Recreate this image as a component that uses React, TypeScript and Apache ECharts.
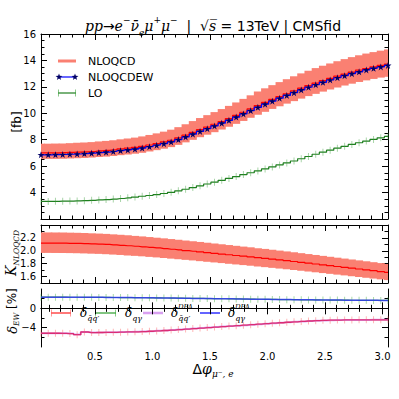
import React, { useEffect, useRef } from "react";
import * as echarts from "echarts";

// ---- binning (bin centres of Δφ, π/50 wide bins) ----
const binWidth = Math.PI / 50;
const firstCenter = Math.PI / 100;
const nBins = 49;
const binCenters: number[] = Array.from({ length: nBins }, (_, k) => firstCenter + k * binWidth);
const xMin = binCenters[0];
const xMax = binCenters[nBins - 1];

// ---- top panel: cross sections [fb] ----
const nloqcd = [7.0, 7.0, 7.01, 7.02, 7.04, 7.06, 7.08, 7.11, 7.15, 7.19, 7.24, 7.3, 7.36, 7.42, 7.5, 7.6, 7.71, 7.83, 7.96, 8.14, 8.34, 8.55, 8.76, 8.96, 9.17, 9.38, 9.6, 9.84, 10.08, 10.33, 10.58, 10.82, 11.05, 11.27, 11.48, 11.69, 11.9, 12.1, 12.29, 12.47, 12.64, 12.81, 12.97, 13.12, 13.26, 13.39, 13.51, 13.62, 13.72];
const nloqcdUp = [7.7, 7.7, 7.71, 7.72, 7.74, 7.77, 7.79, 7.82, 7.87, 7.91, 7.96, 8.03, 8.1, 8.16, 8.25, 8.36, 8.48, 8.61, 8.76, 8.95, 9.17, 9.41, 9.64, 9.86, 10.09, 10.32, 10.56, 10.82, 11.09, 11.36, 11.64, 11.89, 12.13, 12.36, 12.58, 12.8, 13.02, 13.22, 13.42, 13.6, 13.77, 13.94, 14.1, 14.25, 14.39, 14.52, 14.63, 14.74, 14.83];
const nloqcdDown = [6.55, 6.55, 6.55, 6.56, 6.58, 6.6, 6.62, 6.65, 6.69, 6.72, 6.77, 6.83, 6.88, 6.94, 7.01, 7.11, 7.21, 7.32, 7.44, 7.61, 7.8, 7.99, 8.19, 8.38, 8.57, 8.77, 8.98, 9.2, 9.42, 9.66, 9.89, 10.11, 10.33, 10.53, 10.73, 10.92, 11.11, 11.3, 11.47, 11.64, 11.8, 11.95, 12.1, 12.24, 12.37, 12.49, 12.6, 12.7, 12.76];
const nloqcdew = [6.86, 6.86, 6.87, 6.88, 6.9, 6.92, 6.95, 6.98, 7.02, 7.06, 7.11, 7.17, 7.23, 7.29, 7.37, 7.47, 7.58, 7.7, 7.83, 8.01, 8.21, 8.42, 8.63, 8.83, 9.04, 9.25, 9.47, 9.71, 9.95, 10.2, 10.45, 10.69, 10.92, 11.14, 11.35, 11.56, 11.77, 11.97, 12.16, 12.34, 12.52, 12.69, 12.85, 13.0, 13.14, 13.28, 13.4, 13.51, 13.62];
const lo = [3.33, 3.33, 3.34, 3.35, 3.36, 3.37, 3.39, 3.41, 3.44, 3.47, 3.51, 3.55, 3.6, 3.66, 3.72, 3.78, 3.85, 3.93, 4.02, 4.13, 4.25, 4.38, 4.51, 4.65, 4.79, 4.93, 5.07, 5.21, 5.36, 5.5, 5.64, 5.79, 5.94, 6.09, 6.24, 6.39, 6.56, 6.73, 6.9, 7.06, 7.21, 7.36, 7.5, 7.64, 7.77, 7.9, 8.02, 8.14, 8.25];

// ---- middle panel: K factor ----
const kFactor = [2.12, 2.12, 2.119, 2.118, 2.116, 2.114, 2.111, 2.107, 2.103, 2.098, 2.092, 2.085, 2.078, 2.07, 2.062, 2.053, 2.044, 2.034, 2.024, 2.014, 2.003, 1.993, 1.982, 1.971, 1.96, 1.949, 1.938, 1.927, 1.916, 1.905, 1.893, 1.882, 1.87, 1.858, 1.846, 1.834, 1.821, 1.808, 1.795, 1.782, 1.769, 1.756, 1.743, 1.73, 1.717, 1.704, 1.691, 1.678, 1.665];
const kUp = [2.285, 2.285, 2.284, 2.283, 2.281, 2.279, 2.276, 2.271, 2.267, 2.262, 2.255, 2.248, 2.24, 2.231, 2.223, 2.213, 2.203, 2.193, 2.182, 2.171, 2.159, 2.148, 2.137, 2.125, 2.113, 2.101, 2.089, 2.077, 2.065, 2.054, 2.041, 2.029, 2.016, 2.003, 1.99, 1.977, 1.963, 1.949, 1.935, 1.921, 1.907, 1.893, 1.879, 1.865, 1.851, 1.837, 1.823, 1.809, 1.795];
const kDown = [1.967, 1.967, 1.966, 1.966, 1.964, 1.962, 1.959, 1.955, 1.952, 1.947, 1.941, 1.935, 1.928, 1.921, 1.914, 1.905, 1.897, 1.888, 1.878, 1.869, 1.859, 1.85, 1.839, 1.829, 1.819, 1.809, 1.798, 1.788, 1.778, 1.768, 1.757, 1.746, 1.735, 1.724, 1.713, 1.702, 1.69, 1.678, 1.666, 1.654, 1.642, 1.63, 1.618, 1.605, 1.593, 1.581, 1.569, 1.557, 1.545];

// ---- bottom panel: EW corrections [%] ----
const dQQ = [-5.15, -5.15, -5.16, -5.17, -5.22, -5.45, -4.9, -5.02, -5.0, -4.98, -4.96, -4.93, -4.89, -4.85, -4.8, -4.74, -4.67, -4.59, -4.5, -4.4, -4.3, -4.19, -4.08, -3.98, -3.88, -3.78, -3.68, -3.58, -3.48, -3.38, -3.28, -3.18, -3.08, -2.98, -2.88, -2.79, -2.7, -2.62, -2.55, -2.49, -2.45, -2.42, -2.4, -2.39, -2.38, -2.38, -2.37, -2.37, -2.37];
const dQQdpa = [-5.13, -5.14, -5.15, -5.16, -5.21, -5.42, -4.92, -5.01, -4.99, -4.97, -4.95, -4.92, -4.88, -4.84, -4.79, -4.73, -4.66, -4.58, -4.49, -4.39, -4.29, -4.19, -4.08, -3.98, -3.88, -3.78, -3.68, -3.58, -3.48, -3.38, -3.28, -3.18, -3.08, -2.98, -2.89, -2.8, -2.71, -2.63, -2.56, -2.5, -2.46, -2.43, -2.41, -2.4, -2.39, -2.39, -2.38, -2.38, -2.38];
const dQG = [2.3, 2.3, 2.3, 2.3, 2.29, 2.29, 2.28, 2.27, 2.26, 2.25, 2.24, 2.23, 2.22, 2.2, 2.19, 2.17, 2.16, 2.14, 2.12, 2.1, 2.08, 2.06, 2.04, 2.02, 2.0, 1.98, 1.96, 1.94, 1.92, 1.9, 1.88, 1.86, 1.84, 1.82, 1.8, 1.79, 1.77, 1.75, 1.74, 1.72, 1.71, 1.7, 1.68, 1.67, 1.66, 1.65, 1.64, 1.64, 1.63];
const dQGdpa = [2.31, 2.31, 2.31, 2.3, 2.3, 2.29, 2.29, 2.28, 2.27, 2.26, 2.25, 2.24, 2.22, 2.21, 2.19, 2.18, 2.16, 2.14, 2.12, 2.1, 2.08, 2.06, 2.04, 2.02, 2.0, 1.98, 1.96, 1.94, 1.92, 1.9, 1.88, 1.86, 1.84, 1.82, 1.81, 1.79, 1.77, 1.76, 1.74, 1.73, 1.71, 1.7, 1.69, 1.68, 1.67, 1.66, 1.65, 1.64, 1.64];

// ---- ticks ----
const xMajorTicks = [0.5, 1.0, 1.5, 2.0, 2.5, 3.0];
const xMinorTicks = [0.1, 0.2, 0.3, 0.4, 0.6, 0.7, 0.8, 0.9, 1.1, 1.2, 1.3, 1.4, 1.6, 1.7, 1.8, 1.9, 2.1, 2.2, 2.3, 2.4, 2.6, 2.7, 2.8, 2.9];
const topYMajor = [4, 6, 8, 10, 12, 14];
const topYLabels = [4, 6, 8, 10, 12, 14, 16];
const topYMinor = [2.5, 3, 3.5, 4.5, 5, 5.5, 6.5, 7, 7.5, 8.5, 9, 9.5, 10.5, 11, 11.5, 12.5, 13, 13.5, 14.5, 15, 15.5];
const midYMajor = [1.6, 1.8, 2.0, 2.2];
const midYMinor = [1.5, 1.7, 1.9, 2.1, 2.3];
const botYMajor = [-4, 0];
const botYMinor = [-6, -2, 2];

const BAND = "#fa8072";
const pairs = (ys: number[]) => binCenters.map((x, i) => [x, ys[i]]);
const STAR = "path://M50,0L61.2,34.5L97.6,34.5L68.2,55.9L79.4,90.5L50,69.1L20.6,90.5L31.8,55.9L2.4,34.5L38.8,34.5Z";

const grids = [
  { left: 41, top: 34, width: 347, height: 185 },
  { left: 41, top: 225, width: 347, height: 58 },
  { left: 41, top: 289, width: 347, height: 58 },
];
const yRanges = [
  [2, 16],
  [1.5, 2.4],
  [-8, 4],
];
const yTickSets = [
  [topYMajor, topYMinor, topYLabels],
  [midYMajor, midYMinor, midYMajor],
  [botYMajor, botYMinor, botYMajor],
];
const yFormat = [
  (v: number) => String(Math.round(v)),
  (v: number) => v.toFixed(1),
  (v: number) => (v < 0 ? "\u2212" + Math.abs(v) : String(v)),
];

const labelStyle = { fontFamily: "DejaVu Sans", fontSize: 10, color: "#000" };

function xAxisDef(g: number, pos: string, ticks: number[], len: number, line: boolean, labels: boolean) {
  return {
    type: "value",
    gridIndex: g,
    position: pos,
    min: xMin,
    max: xMax,
    axisLine: { show: line, lineStyle: { color: "#000", width: 1 } },
    axisTick: { show: true, inside: true, length: len, customValues: ticks, lineStyle: { color: "#000", width: 1 } },
    axisLabel: labels
      ? { show: true, customValues: xMajorTicks, formatter: (v: number) => v.toFixed(1), margin: 4, ...labelStyle }
      : { show: false },
    splitLine: { show: false },
  };
}
function yAxisDef(g: number, pos: string, ticks: number[], len: number, line: boolean, labels: boolean) {
  return {
    type: "value",
    gridIndex: g,
    position: pos,
    min: yRanges[g][0],
    max: yRanges[g][1],
    axisLine: { show: line, lineStyle: { color: "#000", width: 1 } },
    axisTick: { show: true, inside: true, length: len, customValues: ticks, lineStyle: { color: "#000", width: 1 } },
    axisLabel: labels
      ? { show: true, customValues: yTickSets[g][2], formatter: yFormat[g], margin: 5, ...labelStyle }
      : { show: false },
    splitLine: { show: false },
  };
}

const xAxes: any[] = [];
const yAxes: any[] = [];
for (let g = 0; g < 3; g++) {
  xAxes.push(xAxisDef(g, "bottom", xMajorTicks, 6, true, g === 2));
  yAxes.push(yAxisDef(g, "left", yTickSets[g][0], 6, true, true));
}
for (let g = 0; g < 3; g++) {
  xAxes.push(xAxisDef(g, "bottom", xMinorTicks, 3.5, false, false));
  xAxes.push(xAxisDef(g, "top", xMajorTicks, 6, true, false));
  xAxes.push(xAxisDef(g, "top", xMinorTicks, 3.5, false, false));
  yAxes.push(yAxisDef(g, "left", yTickSets[g][1], 3.5, false, false));
  yAxes.push(yAxisDef(g, "right", yTickSets[g][0], 6, true, false));
  yAxes.push(yAxisDef(g, "right", yTickSets[g][1], 3.5, false, false));
}

function bandSeries(g: number, low: number[], high: number[]) {
  return {
    type: "custom",
    xAxisIndex: g,
    yAxisIndex: g,
    clip: true,
    z: 1,
    silent: true,
    encode: { x: 0, y: [1, 2] },
    data: binCenters.map((x, i) => [x, low[i], high[i]]),
    renderItem: (params: any, api: any) => {
      const x = api.value(0);
      const a = api.coord([x - binWidth / 2, api.value(2)]);
      const b = api.coord([x + binWidth / 2, api.value(1)]);
      const cs = params.coordSys;
      const x0 = Math.max(a[0] - 0.4, cs.x);
      const x1 = Math.min(b[0] + 0.4, cs.x + cs.width);
      return { type: "rect", shape: { x: x0, y: a[1], width: x1 - x0, height: b[1] - a[1] }, style: { fill: BAND } };
    },
  };
}
function stepLine(g: number, ys: number[], color: string, width: number, z: number, extra: any = {}) {
  return {
    type: "line",
    xAxisIndex: g,
    yAxisIndex: g,
    step: "middle",
    data: pairs(ys),
    symbol: "none",
    lineStyle: { color, width },
    itemStyle: { color },
    z,
    silent: true,
    ...extra,
  };
}
function errBars(g: number, ys: number[], color: string, z: number) {
  return {
    type: "scatter",
    xAxisIndex: g,
    yAxisIndex: g,
    data: pairs(ys),
    symbol: "rect",
    symbolSize: [1, 7],
    itemStyle: { color },
    z,
    silent: true,
  };
}

function starPts(cx: number, cy: number, r: number) {
  const pts: number[][] = [];
  for (let i = 0; i < 10; i++) {
    const rr = i % 2 === 0 ? r : r * 0.4;
    const ang = -Math.PI / 2 + (i * Math.PI) / 5;
    pts.push([cx + rr * Math.cos(ang), cy + rr * Math.sin(ang)]);
  }
  return pts;
}

const serif = "DejaVu Serif";
const mathRich = {
  m: { fontFamily: serif, fontStyle: "italic", fontSize: 14, lineHeight: 22, fill: "#000" },
  n: { fontFamily: "DejaVu Sans", fontSize: 14, lineHeight: 22, fill: "#000" },
  sp: { fontFamily: serif, fontStyle: "italic", fontSize: 9, lineHeight: 12, verticalAlign: "top", fill: "#000" },
  sb: { fontFamily: serif, fontStyle: "italic", fontSize: 9, lineHeight: 10, verticalAlign: "bottom", fill: "#000" },
};
const legRich = {
  d: { fontFamily: serif, fontStyle: "italic", fontSize: 12, lineHeight: 18, fill: "#000" },
  s: { fontFamily: serif, fontStyle: "italic", fontSize: 8, lineHeight: 8, verticalAlign: "bottom", fill: "#000" },
};

function legendLine(x1: number, x2: number, y: number, color: string, width: number, opacity = 1) {
  return { type: "line", shape: { x1, y1: y, x2, y2: y }, style: { stroke: color, lineWidth: width, opacity }, silent: true };
}
function legendBar(x: number, y: number, color: string) {
  return { type: "rect", shape: { x: x - 0.5, y: y - 3.5, width: 1, height: 7 }, style: { fill: color }, silent: true };
}
function txt(x: number, y: number, text: string, rich: any, align = "left", rotation = 0, font?: string) {
  return {
    type: "text",
    x,
    y,
    rotation,
    silent: true,
    style: { text, rich, x: 0, y: 0, align, verticalAlign: "middle", font, fill: "#000" },
  };
}

const graphics: any[] = [
  // title
  txt(213, 26, "{m|pp}{n|\u2192}{m|e}{sp|\u2212}{m|\u03BD\u0304}{sb|e}{m|\u03BC}{sp|+}{m|\u03BC}{sp|\u2212}{n|  |  \u221A}{m|s\u0305}{n| = 13TeV | CMSfid}", mathRich, "center"),
  // axis titles
  txt(17, 122, "[fb]", undefined, "center", Math.PI / 2, "12px DejaVu Sans"),
  txt(11, 253, "{k|K}{s|NLOQCD}", {
    k: { fontFamily: serif, fontStyle: "italic", fontSize: 14, lineHeight: 18, fill: "#000" },
    s: { fontFamily: serif, fontStyle: "italic", fontSize: 7.5, lineHeight: 8, verticalAlign: "bottom", fill: "#000" },
  }, "center", Math.PI / 2),
  txt(12, 311, "{d|\u03B4}{s|EW}{n| [%]}", {
    d: { fontFamily: serif, fontStyle: "italic", fontSize: 13, lineHeight: 16, fill: "#000" },
    s: { fontFamily: serif, fontStyle: "italic", fontSize: 7.5, lineHeight: 8, verticalAlign: "bottom", fill: "#000" },
    n: { fontFamily: "DejaVu Sans", fontSize: 12, lineHeight: 16, fill: "#000" },
  }, "center", Math.PI / 2),
  txt(213, 369, "{n|\u0394}{m|\u03C6}{s|\u03BC\u207B, e}", {
    n: { fontFamily: "DejaVu Sans", fontSize: 14, lineHeight: 18, fill: "#000" },
    m: { fontFamily: serif, fontStyle: "italic", fontSize: 14, lineHeight: 18, fill: "#000" },
    s: { fontFamily: serif, fontStyle: "italic", fontSize: 9, lineHeight: 9, verticalAlign: "bottom", fill: "#000" },
  }, "center"),
  // top legend
  legendLine(58, 76, 61, BAND, 3),
  txt(88, 61, "NLOQCD", undefined, "left", 0, "11px DejaVu Sans"),
  legendLine(58, 76, 77, "#0000ff", 1.2),
  { type: "polygon", shape: { points: starPts(59, 77, 3.6) }, style: { fill: "#000066" }, silent: true },
  { type: "polygon", shape: { points: starPts(75, 77, 3.6) }, style: { fill: "#000066" }, silent: true },
  txt(88, 77, "NLOQCDEW", undefined, "left", 0, "11px DejaVu Sans"),
  legendLine(58, 76, 93, "#1f7f1f", 1.2),
  legendBar(58.5, 93, "rgba(60,160,60,0.6)"),
  legendBar(75.5, 93, "rgba(60,160,60,0.6)"),
  txt(88, 93, "LO", undefined, "left", 0, "11px DejaVu Sans"),
  // bottom legend
  legendLine(51, 71, 313, "#ff2020", 1.2),
  legendBar(51.5, 313, "rgba(255,90,90,0.6)"),
  legendBar(70.5, 313, "rgba(255,90,90,0.6)"),
  txt(80, 313, "{d|\u03B4}{s|q\u0304q\u2032}", legRich),
  legendLine(95, 116, 313, "#2e9e2e", 1.2),
  legendBar(95.5, 313, "rgba(60,170,60,0.6)"),
  legendBar(115.5, 313, "rgba(60,170,60,0.6)"),
  txt(125, 313, "{d|\u03B4}{s|q\u03B3}", legRich),
  legendLine(143, 163, 313, "#c060e8", 2.5, 0.6),
  txt(171, 313, "{d|\u03B4}{s|q\u0304q\u2032}", legRich),
  txt(178, 307, "DPA", undefined, "left", 0, "italic 7px DejaVu Serif"),
  legendLine(200, 220, 313, "#3030ff", 2, 0.75),
  txt(228, 313, "{d|\u03B4}{s|q\u03B3}", legRich),
  txt(235, 307, "DPA", undefined, "left", 0, "italic 7px DejaVu Serif"),
];

const option: any = {
  animation: false,
  backgroundColor: "#fff",
  grid: grids,
  xAxis: xAxes,
  yAxis: yAxes,
  series: [
    bandSeries(0, nloqcdDown, nloqcdUp),
    stepLine(0, nloqcd, "#ff0000", 1.2, 3),
    stepLine(0, nloqcdew, "#0000ff", 1.2, 4, {
      symbol: STAR,
      symbolSize: 7,
      showSymbol: true,
      itemStyle: { color: "#000066" },
    }),
    stepLine(0, lo, "#1f7f1f", 1.2, 3),
    errBars(0, lo, "rgba(60,160,60,0.55)", 4),
    bandSeries(1, kDown, kUp),
    stepLine(1, kFactor, "#ff0000", 1.2, 3),
    stepLine(2, dQG, "#2e9e2e", 1.2, 3),
    errBars(2, dQG, "rgba(60,170,60,0.55)", 4),
    stepLine(2, dQGdpa, "#3030ff", 1.5, 5, { lineStyle: { color: "#3030ff", width: 1.5, opacity: 0.8 } }),
    stepLine(2, dQQ, "#ff1a1a", 1.3, 3),
    errBars(2, dQQ, "rgba(255,90,90,0.55)", 4),
    stepLine(2, dQQdpa, "#b040e0", 2, 5, { lineStyle: { color: "#b040e0", width: 2, opacity: 0.45 } }),
  ],
  graphic: { elements: graphics },
};

export default function App() {
  const ref = useRef<HTMLDivElement>(null);
  useEffect(() => {
    const chart = echarts.init(ref.current!, null, { renderer: "svg" });
    chart.setOption(option);
    return () => chart.dispose();
  }, []);
  return <div ref={ref} style={{ width: 399, height: 399, position: "absolute", left: 0, top: 0 }} />;
}
